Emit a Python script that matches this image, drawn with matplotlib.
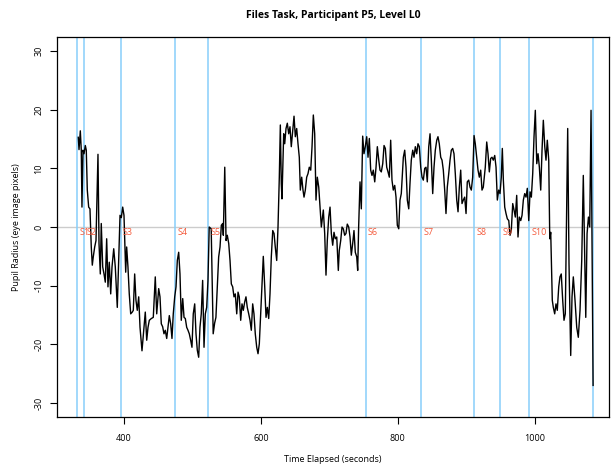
import matplotlib
matplotlib.use("Agg")
import matplotlib.pyplot as plt
import numpy as np

plt.rcParams['font.family'] = ['Open Sans', 'DejaVu Sans']
plt.rcParams['axes.unicode_minus'] = False

title = "Files Task, Participant P5, Level L0"
xlabel = "Time Elapsed (seconds)"
ylabel = "Pupil Radius (eye image pixels)"

# pupil radius trace (seconds, pixels relative to baseline)
time_s = [
    333.2, 334.3, 336.2, 337.6, 338.6, 340.1, 341.6, 343.5, 344.9, 346.4,
    348.4, 350.3, 352.2, 353.7, 355.1, 357.2, 359.1, 362.0, 363.5, 365.4,
    366.8, 368.9, 370.8, 372.7, 374.7, 376.6, 378.5, 380.6, 382.5, 385.0,
    387.3, 390.2, 392.7, 394.2, 396.1, 398.1, 400.0, 402.5, 403.9, 405.8,
    407.7, 409.8, 412.1, 413.6, 415.6, 417.5, 419.4, 421.5, 423.4, 426.3,
    429.2, 431.1, 433.2, 435.1, 437.0, 439.9, 442.8, 445.7, 447.8, 450.7,
    452.6, 454.5, 456.5, 458.4, 460.3, 462.4, 464.3, 466.2, 468.2, 470.1,
    472.0, 474.1, 476.0, 477.9, 479.9, 481.8, 483.7, 485.8, 487.7, 489.6,
    491.6, 493.5, 495.4, 497.4, 499.3, 501.2, 503.3, 505.2, 507.1, 509.1,
    511.0, 512.9, 514.9, 516.9, 518.8, 520.8, 522.7, 524.5, 527.4, 530.3,
    532.4, 534.3, 536.3, 538.3, 540.3, 542.2, 544.2, 545.1, 547.2, 549.1,
    550.9, 553.0, 554.9, 556.8, 558.8, 560.7, 562.6, 564.7, 566.6, 568.4,
    570.5, 572.4, 574.3, 576.3, 578.2, 580.1, 582.2, 584.1, 586.0, 588.0,
    589.9, 591.8, 593.9, 595.8, 597.7, 599.7, 601.6, 603.5, 605.6, 607.5,
    609.4, 611.4, 613.3, 615.2, 617.3, 619.2, 621.0, 623.1, 625.0, 626.9,
    628.4, 629.8, 630.8, 632.3, 633.3, 634.8, 636.7, 638.6, 640.6, 642.5,
    644.4, 646.5, 648.4, 650.3, 652.3, 654.2, 656.1, 657.6, 659.6, 661.5,
    663.0, 664.9, 666.9, 668.8, 670.7, 672.8, 674.7, 676.6, 678.6, 680.5,
    682.4, 684.5, 686.4, 688.3, 691.2, 693.2, 695.1, 697.0, 699.1, 701.0,
    702.9, 704.9, 706.8, 708.7, 710.8, 713.1, 714.5, 716.6, 718.5, 720.4,
    722.4, 724.3, 726.2, 728.3, 730.2, 732.1, 734.1, 736.0, 737.9, 740.0,
    741.4, 742.8, 744.8, 746.7, 748.7, 750.6, 752.5, 754.6, 756.5, 758.4,
    760.4, 762.3, 764.2, 766.3, 768.2, 770.1, 772.2, 774.0, 775.9, 778.0,
    779.9, 781.8, 783.8, 785.7, 787.6, 789.6, 791.5, 793.4, 795.5, 797.4,
    799.3, 801.4, 803.2, 805.1, 807.2, 808.1, 810.1, 812.0, 813.9, 816.0,
    817.8, 819.7, 821.8, 823.7, 825.6, 827.6, 829.5, 831.4, 833.5, 835.4,
    837.3, 839.3, 841.2, 843.1, 845.2, 847.1, 849.0, 851.0, 852.9, 854.8,
    856.9, 858.7, 860.6, 862.7, 864.6, 866.5, 868.5, 870.4, 872.3, 874.4,
    876.3, 878.2, 880.2, 882.1, 884.0, 886.1, 888.0, 889.9, 891.9, 893.8,
    895.7, 897.7, 899.7, 901.5, 903.6, 905.5, 907.4, 909.4, 911.4, 913.2,
    915.3, 917.2, 919.1, 921.1, 923.0, 924.9, 927.8, 929.9, 931.8, 933.7,
    935.7, 937.6, 939.5, 941.6, 943.5, 945.4, 947.4, 949.3, 951.2, 952.7,
    954.2, 956.2, 958.1, 960.0, 962.1, 964.0, 965.8, 967.9, 969.8, 971.7,
    973.7, 975.6, 977.5, 979.6, 981.5, 983.4, 985.4, 987.3, 989.2, 991.3,
    993.2, 995.1, 997.1, 999.0, 1000.9, 1003.0, 1004.9, 1006.8, 1008.8, 1010.7,
    1012.6, 1014.7, 1016.5, 1018.4, 1020.5, 1022.0, 1023.4, 1025.7, 1027.2, 1029.2,
    1031.1, 1033.0, 1035.1, 1036.9, 1038.8, 1040.9, 1042.8, 1044.7, 1048.2, 1050.1,
    1052.6, 1054.5, 1056.4, 1058.9, 1061.4, 1063.7, 1066.2, 1068.7, 1071.0, 1074.6,
    1076.5, 1078.5, 1080.4, 1082.3, 1083.8, 1085.3,
]
radius = [
    15.3, 13.2, 16.4, 13.1, 3.4, 13.1, 12.5, 13.9, 13.1, 6.3,
    3.4, 3.1, -3.4, -6.5, -5.1, -3.4, -2.3, 12.4, -2.8, -8.0,
    0.6, -6.8, -8.0, -9.4, -2.0, -10.2, -6.0, -11.4, -6.8, -3.7,
    -6.8, -13.7, -4.0, 2.0, 1.6, 3.4, 2.0, -7.7, -3.4, -6.8,
    -11.4, -14.8, -14.5, -14.2, -8.0, -12.5, -14.2, -11.9, -17.1, -21.1,
    -17.1, -14.5, -19.3, -17.1, -15.9, -15.6, -15.4, -8.5, -14.8, -10.5,
    -11.9, -16.5, -17.0, -18.2, -17.6, -19.0, -17.1, -15.1, -16.5, -19.0,
    -14.8, -11.9, -10.2, -5.7, -4.3, -8.0, -15.9, -12.2, -15.4, -15.6,
    -17.1, -17.6, -18.2, -19.3, -20.5, -14.8, -13.1, -18.2, -21.0, -22.2,
    -17.1, -14.8, -9.1, -20.5, -14.8, -13.7, -9.1, 0.0, -0.3, -18.2,
    -16.4, -15.4, -10.2, -5.1, -3.4, 0.3, 0.6, -1.4, 10.2, -2.3,
    -1.4, -2.8, -5.7, -9.7, -10.2, -11.9, -11.4, -14.8, -11.1, -11.9,
    -15.9, -13.1, -14.2, -12.8, -11.9, -13.7, -14.8, -15.9, -17.6, -13.1,
    -14.8, -18.2, -20.5, -21.6, -19.9, -14.8, -10.2, -5.0, -10.2, -15.4,
    -13.7, -15.6, -11.4, -5.1, -0.6, -1.1, -3.4, -5.7, 0.0, 8.5,
    17.4, 7.4, 4.8, 11.4, 15.9, 14.2, 16.8, 17.7, 15.9, 17.1,
    13.7, 16.5, 18.9, 15.4, 16.8, 14.2, 11.9, 6.3, 8.5, 6.3,
    5.1, 6.3, 8.5, 9.1, 10.2, 9.7, 13.7, 19.1, 15.9, 4.6,
    8.5, 6.8, 3.4, 0.0, 2.9, -1.1, -8.2, -2.3, 1.7, 3.4,
    -1.1, -3.1, -0.9, -2.0, -1.7, -7.4, -4.0, -2.3, 0.0, -0.3,
    -1.4, -1.1, 0.5, 0.0, -1.7, -4.8, -2.8, -0.6, -4.3, -5.1,
    -7.4, 0.0, 7.7, 3.1, 15.5, 12.5, 13.7, 15.4, 11.9, 15.1,
    9.7, 8.8, 9.7, 7.7, 10.2, 13.7, 11.4, 9.7, 9.4, 10.8,
    13.9, 13.4, 10.2, 9.4, 8.5, 14.8, 8.0, 6.3, 7.1, 5.1,
    0.3, -0.3, 4.6, 5.7, 10.0, 11.9, 13.1, 10.2, 4.6, 3.1,
    7.4, 11.4, 13.1, 11.9, 13.7, 12.5, 14.2, 13.7, 10.2, 8.5,
    8.0, 10.0, 10.2, 7.7, 13.7, 15.9, 11.4, 5.7, 10.2, 13.1,
    14.8, 15.4, 14.2, 11.9, 11.4, 9.7, 6.3, 2.3, 6.8, 9.1,
    11.4, 13.1, 13.4, 12.5, 9.1, 4.6, 2.6, 6.8, 9.7, 4.0,
    4.6, 5.1, 2.3, 7.7, 8.0, 6.8, 6.3, 8.5, 15.6, 14.2,
    11.9, 9.7, 8.5, 9.7, 6.3, 6.8, 10.2, 14.5, 12.5, 9.4,
    11.7, 11.9, 11.4, 12.2, 10.2, 4.6, 6.3, 5.7, 8.5, 13.4,
    8.0, 3.4, 2.3, 1.4, 1.1, -1.4, -0.6, 4.0, 2.9, 1.7,
    5.4, -1.7, 1.7, 1.1, 2.0, 4.6, 5.7, 5.1, 6.6, 1.1,
    6.0, 5.1, 9.1, 15.4, 19.9, 10.8, 12.5, 10.2, 6.3, 13.1,
    18.2, 13.7, 11.4, 14.8, 11.4, -2.0, -0.9, -12.5, -13.7, -14.8,
    -13.1, -14.2, -10.2, -8.5, -8.0, -12.5, -15.9, -14.8, 16.8, -6.2,
    -21.9, -11.9, -8.5, -12.5, -17.1, -18.8, -14.2, -5.7, 8.8, -15.4,
    -1.1, 1.7, 0.0, 19.9, -3.4, -27.0,
]

# subtask start markers
marker_times = [331.8, 342.3, 395.2, 475.2, 523.4, 753.5, 834.6, 911.8, 949.7, 991.7, 1085.6]
marker_labels = ["S1", "S2", "S3", "S4", "S5", "S6", "S7", "S8", "S9", "S10", ""]

x_ticks = [400, 600, 800, 1000]
y_ticks = [-30, -20, -10, 0, 10, 20, 30]

fig = plt.figure(figsize=(6.15, 4.66), dpi=100)
ax = fig.add_axes([0.0932, 0.105, 0.8970, 0.8156])

ax.axhline(0, color="#cccccc", lw=1.0, zorder=1)
for t in marker_times:
    ax.axvline(t, color="#87cefa", lw=1.1, zorder=2)
for t, lab in zip(marker_times, marker_labels):
    if lab:
        ax.annotate(lab, xy=(t, -0.9), xytext=(1.5, 0), textcoords="offset points",
                    ha="left", va="center", color="#f4593b", fontsize=6.5, zorder=4)

ax.plot(time_s, radius, color="black", lw=1.0, zorder=3)

ax.set_xlim(302.6, 1108.5)
ax.set_ylim(-32.4, 32.4)
ax.set_xticks(x_ticks)
ax.set_yticks(y_ticks)
ax.set_yticklabels([str(v) for v in y_ticks], rotation=90, va="center")
ax.tick_params(axis="both", direction="out", length=5, width=0.8, labelsize=6.5, color="black")
ax.tick_params(axis="x", pad=7)
ax.tick_params(axis="y", pad=5)
for s in ax.spines.values():
    s.set_linewidth(0.9)
    s.set_color("black")

ax.set_title(title, fontsize=7.5, fontweight="bold", pad=14)
ax.set_xlabel(xlabel, fontsize=6.5, labelpad=9)
ax.set_ylabel(ylabel, fontsize=6.5, labelpad=10)

fig.savefig("out.png", dpi=100)
